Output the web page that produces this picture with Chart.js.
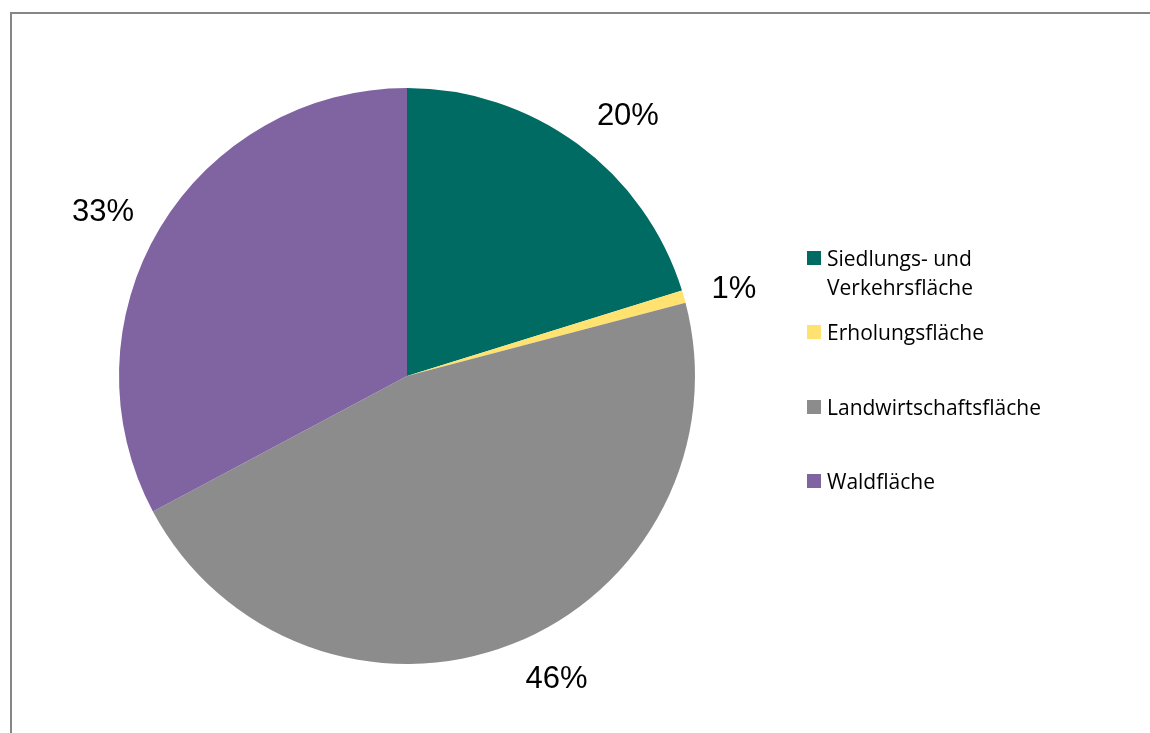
<!DOCTYPE html>
<html>
<head>
<meta charset="utf-8">
<script src="https://cdn.jsdelivr.net/npm/chart.js@4/dist/chart.umd.min.js"></script>
<style>
  body { margin: 0; background: #fff; }
  #wrap { position: relative; width: 1150px; height: 733px; overflow: hidden; }
  #frame { position: absolute; left: 10px; top: 12px; width: 1200px; height: 800px;
           border-top: 2px solid #868686; border-left: 2px solid #868686; }
  #myChart { position: absolute; left: 0; top: 0; }
  #legend { position: absolute; left: 807px; top: 244px; font-family: "Open Sans", sans-serif;
            font-size: 21px; color: #000; }
  .item { position: absolute; left: 0; white-space: nowrap; line-height: 29px; }
  .box { position: absolute; left: 0; top: 7px; width: 14px; height: 14px; }
  .txt { position: absolute; left: 20px; top: 0; }
</style>
</head>
<body>
<div id="wrap">
  <div id="frame"></div>
  <canvas id="myChart" width="1150" height="733"></canvas>
  <div id="legend"></div>
</div>
<script>
  // Flächennutzung (Anteile in %)
  var categorias = ['Siedlungs- und Verkehrsfläche', 'Erholungsfläche', 'Landwirtschaftsfläche', 'Waldfläche'];
  var legendLines = [['Siedlungs- und', 'Verkehrsfläche'], ['Erholungsfläche'], ['Landwirtschaftsfläche'], ['Waldfläche']];
  var valores = [20.2, 0.7, 46.3, 32.8];
  var colores = ['#006b63', '#ffe26f', '#8c8c8c', '#8064a2'];

  // etiquetas de porcentaje fuera del pastel
  var etiquetasPlugin = {
    id: 'etiquetas',
    afterDatasetsDraw: function (chart) {
      var ctx = chart.ctx;
      var meta = chart.getDatasetMeta(0);
      var total = valores.reduce(function (a, b) { return a + b; }, 0);
      ctx.save();
      ctx.font = '31px "Liberation Sans", Arial, sans-serif';
      ctx.fillStyle = '#000';
      ctx.textAlign = 'center';
      ctx.textBaseline = 'middle';
      meta.data.forEach(function (arc, i) {
        var mid = (arc.startAngle + arc.endAngle) / 2;
        var dx = Math.cos(mid), dy = Math.sin(mid);
        var r = arc.outerRadius + 26;
        var txt = Math.max(1, Math.round(valores[i] / total * 100)) + '%';
        var w = ctx.measureText(txt).width, h = 23;
        var x = arc.x + dx * r + (dx >= 0 ? 1.12 : -1.12) * w / 2;
        var y = arc.y + dy * r + dy * Math.abs(dy) * 1.05 * h / 2;
        ctx.fillText(txt, x, y + 1);
      });
      ctx.restore();
    }
  };

  function renderChart() {
    var ctx = document.getElementById('myChart').getContext('2d');
    var myChart = new Chart(ctx, {
      type: 'pie',
      data: {
        labels: categorias,
        datasets: [{
          data: valores,
          backgroundColor: colores,
          borderWidth: 0
        }]
      },
      options: {
        responsive: false,
        animation: false,
        layout: { padding: { top: 88, bottom: 69, left: 119, right: 455 } },
        plugins: { legend: { display: false }, tooltip: { enabled: false } }
      },
      plugins: [etiquetasPlugin]
    });
  }

  // leyenda en HTML (texto en dos líneas para la primera entrada)
  function renderLegend() {
    var tops = [0, 74, 149, 223];
    var html = '';
    legendLines.forEach(function (lines, i) {
      html += '<div class="item" style="top:' + tops[i] + 'px">' +
        '<div class="box" style="background:' + colores[i] + '"></div>' +
        '<div class="txt">' + lines.join('<br>') + '</div></div>';
    });
    document.getElementById('legend').innerHTML = html;
  }

  renderChart();
  renderLegend();
</script>
</body>
</html>
